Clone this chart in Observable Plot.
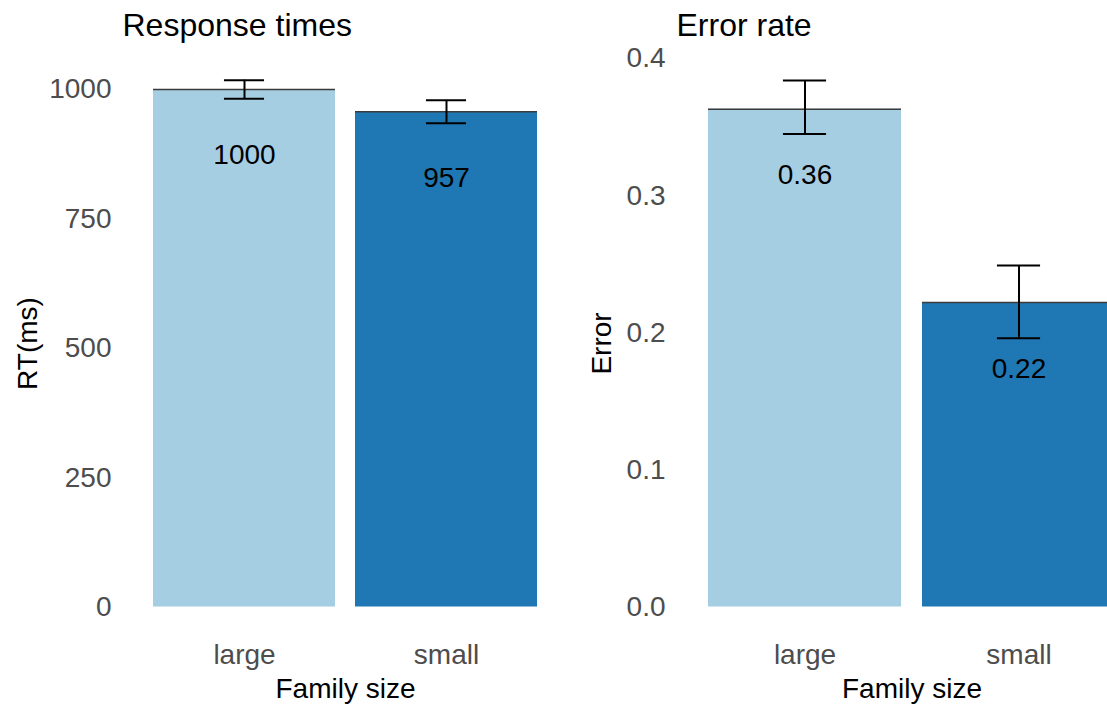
<!DOCTYPE html>
<html><head><meta charset="utf-8">
<script src="https://cdn.jsdelivr.net/npm/d3@7"></script>
<script src="https://cdn.jsdelivr.net/npm/@observablehq/plot@0.6"></script>
<style>
html,body{margin:0;padding:0;background:#fff;}
#wrap{position:relative;width:1107px;height:704px;overflow:hidden;background:#fff;}
#wrap svg{position:absolute;top:0;}
</style></head><body><div id="wrap"></div>
<script>
const families = ["large", "small"];
const barColors = ["#a6cee3", "#1f78b4"];

const rtMean = [1000, 957];
const rtLow = [982, 935];
const rtHigh = [1018, 979];
const rtLabels = ["1000", "957"];
const rtTicks = [0, 250, 500, 750, 1000];

const errMean = [0.363, 0.222];
const errLow = [0.345, 0.196];
const errHigh = [0.384, 0.249];
const errLabels = ["0.36", "0.22"];
const errTicks = [0, 0.1, 0.2, 0.3, 0.4];

const FONT = "'Liberation Sans', Arial, sans-serif";

function panel(o) {
  const rows = families.map((f, i) => ({family: f, mean: o.mean[i], low: o.low[i], high: o.high[i], label: o.labels[i]}));
  const panelWidth = o.width - o.marginLeft - o.marginRight;
  const step = panelWidth / 2.2;
  const capInset = 0.35 * step;
  const height = 704;
  const frameMid = (o.marginTop + (height - o.marginBottom)) / 2;
  const svg = Plot.plot({
    width: o.width,
    height,
    marginLeft: o.marginLeft,
    marginRight: o.marginRight,
    marginTop: o.marginTop,
    marginBottom: o.marginBottom,
    style: {fontFamily: FONT, fontSize: "28px", color: "#4d4d4d", background: "transparent", overflow: "visible"},
    x: {domain: families, paddingInner: 0.1, paddingOuter: 0.15},
    y: {domain: o.domain},
    color: {domain: families, range: barColors},
    marks: [
      Plot.barY(rows, {x: "family", y: "mean", fill: "family"}),
      Plot.tickY(rows, {x: "family", y: "mean", stroke: "#3a3a3a", strokeWidth: 1.5}),
      Plot.ruleX(rows, {x: "family", y1: "low", y2: "high", stroke: "black", strokeWidth: 2}),
      Plot.tickY(rows, {x: "family", y: "low", stroke: "black", strokeWidth: 2, insetLeft: capInset, insetRight: capInset}),
      Plot.tickY(rows, {x: "family", y: "high", stroke: "black", strokeWidth: 2, insetLeft: capInset, insetRight: capInset}),
      Plot.text(rows, {x: "family", y: "mean", text: "label", dy: 66, fill: "black", fontSize: 28}),
      Plot.axisY({ticks: o.ticks, tickFormat: o.tickFormat, tickSize: 0, tickPadding: 11, label: null, fontSize: 28}),
      Plot.axisX({tickSize: 0, tickPadding: 37.5, label: null, fontSize: 28}),
      Plot.text([o.ylabel], {frameAnchor: "left", textAnchor: "middle", rotate: -90, dx: o.ylabelDx, dy: 343 - frameMid, fill: "black", fontSize: 28}),
      Plot.text(["Family size"], {frameAnchor: "bottom", textAnchor: "middle", lineAnchor: "bottom", dy: 90.5, fill: "black", fontSize: 28}),
      Plot.text([o.title], {frameAnchor: "top-left", textAnchor: "start", lineAnchor: "bottom", dy: 35 - o.marginTop, fill: "black", fontSize: 32})
    ]
  });
  svg.style.left = o.left + "px";
  document.getElementById("wrap").appendChild(svg);
}

panel({
  left: 0, width: 575, marginLeft: 122, marginRight: 7, marginTop: 89, marginBottom: 97.5,
  domain: [0, 1000], ticks: rtTicks, tickFormat: d3.format("d"),
  mean: rtMean, low: rtLow, high: rtHigh, labels: rtLabels,
  title: "Response times", ylabel: "RT(ms)", ylabelDx: -94
});

panel({
  left: 575, width: 600, marginLeft: 101, marginRight: 28, marginTop: 58, marginBottom: 97.5,
  domain: [0, 0.4], ticks: errTicks, tickFormat: d3.format(".1f"),
  mean: errMean, low: errLow, high: errHigh, labels: errLabels,
  title: "Error rate", ylabel: "Error", ylabelDx: -74
});
</script>
</body></html>
